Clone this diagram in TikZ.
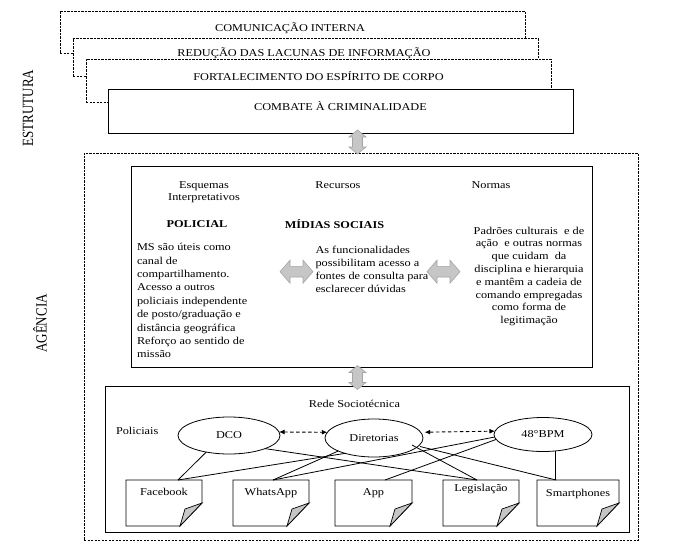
\documentclass[tikz,border=0pt]{standalone}
\usepackage{fontspec}
\setmainfont{Liberation Serif}
\usepackage{graphicx}
\usetikzlibrary{calc,arrows.meta,shapes.geometric}
\definecolor{gfill}{RGB}{198,198,198}
\definecolor{gdraw}{RGB}{165,165,165}
\newcommand{\hsx}[1]{\scalebox{1.17}[1]{#1}}
\newcommand{\vsx}[1]{\scalebox{1}[1.2]{#1}}
\newcommand{\mtab}[3]{\hsx{\fontsize{10.5}{#2}\selectfont\begin{tabular}[t]{@{}#1@{}}#3\end{tabular}}}
\newcommand{\docshape}[1]{%
  \draw[line width=0.8pt,fill=white] (#1.north west) -- (#1.north east) -- ($(#1.south east)+(0,-23)$) -- ($(#1.south east)+(-22,0)$) -- (#1.south west) -- cycle;
  \draw[line width=0.7pt,fill=gfill] ($(#1.south east)+(-22,0)$) .. controls ($(#1.south east)+(-19.5,-9)$) .. ($(#1.south east)+(-17,-17)$) .. controls ($(#1.south east)+(-9,-19.5)$) .. ($(#1.south east)+(0,-23)$) -- cycle;}
\begin{document}
\begin{tikzpicture}[x=1pt,y=-1pt,
  every node/.style={inner sep=0pt,outer sep=0pt},
  ft/.style={font=\fontsize{10.5}{12.5}\selectfont},
  dbox/.style={draw,fill=white,line width=0.8pt,dash pattern=on 2.2pt off 1.3pt},
  sbox/.style={draw,fill=white,line width=0.9pt},
  gshape/.style={fill=gfill,draw=gdraw,line width=0.6pt},
  ell/.style={ellipse,draw,fill=white,line width=0.8pt,ft},
  doc/.style={ft,minimum width=#1,minimum height=46pt},
  link/.style={line width=0.8pt},
  darr/.style={line width=0.9pt,dash pattern=on 3.5pt off 2.5pt,{Latex[length=5.5pt,width=5pt]}-{Latex[length=5.5pt,width=5pt]}},
  vdarrow/.pic={\path[gshape] (0,-12) -- (8.5,-5) -- (5,-5) -- (5,5) -- (8.5,5) -- (0,12) -- (-8.5,5) -- (-5,5) -- (-5,-5) -- (-8.5,-5) -- cycle;},
  hdarrow/.pic={\path[gshape] (-16.5,0) -- (-6.5,-11.5) -- (-6.5,-5.3) -- (6.5,-5.3) -- (6.5,-11.5) -- (16.5,0) -- (6.5,11.5) -- (6.5,5.3) -- (-6.5,5.3) -- (-6.5,11.5) -- cycle;}
]
\fill[white] (0,0) rectangle (680,546);
\useasboundingbox (0,0) rectangle (680,546);

% ---- Estrutura: stacked boxes
\node[dbox,minimum width=465pt,minimum height=42pt] (b1) at (292.5,32) {};
\node[ft,anchor=base] (t1) at (290,31) {\hsx{COMUNICAÇÃO INTERNA}};
\node[dbox,minimum width=465pt,minimum height=38pt] (b2) at (305.5,57) {};
\node[ft,anchor=base] (t2) at (304,56) {\hsx{REDUÇÃO DAS LACUNAS DE INFORMAÇÃO}};
\node[dbox,minimum width=465pt,minimum height=43pt] (b3) at (318.5,80.5) {};
\node[ft,anchor=base] (t3) at (318.5,80.5) {\hsx{FORTALECIMENTO DO ESPÍRITO DE CORPO}};
\node[sbox,minimum width=465pt,minimum height=44pt] (b4) at (340.5,111) {};
\node[ft,anchor=base] (t4) at (340.5,110.5) {\hsx{COMBATE À CRIMINALIDADE}};

\node[rotate=90,font=\fontsize{13}{15}\selectfont] (estr) at (28,108) {\vsx{ESTRUTURA}};
\node[rotate=90,font=\fontsize{13}{15}\selectfont] (agen) at (40,323.5) {\vsx{AGÊNCIA}};

% ---- Agencia
\node[dbox,minimum width=554pt,minimum height=387pt] (ag) at (361,346.5) {};
\node[sbox,minimum width=461pt,minimum height=201pt] (inr) at (361.5,266.5) {};
\node[sbox,minimum width=524pt,minimum height=146pt] (net) at (367,459) {};

\pic at (357.5,142) {vdarrow};
\pic at (357.5,377.5) {vdarrow};

\node[ft,anchor=base] (hesq) at (204,188) {\mtab{c}{12.5pt}{Esquemas\\Interpretativos}};
\node[ft,anchor=base] (hrec) at (338,188) {\hsx{Recursos}};
\node[ft,anchor=base] (hnor) at (491,188.5) {\hsx{Normas}};
\node[ft,anchor=base] (pol) at (197,227.5) {\hsx{\textbf{POLICIAL}}};
\node[ft,anchor=base] (mid) at (334.5,228.5) {\hsx{\textbf{MÍDIAS SOCIAIS}}};

\node[ft,anchor=base west] (ltxt) at (137,250.7) {\mtab{l}{13.4pt}{MS são úteis como\\canal de\\compartilhamento.\\Acesso a outros\\policiais independente\\de posto/graduação e\\distância geográfica\\Reforço ao sentido de\\missão}};
\node[ft,anchor=base west] (mtxt) at (315.5,253.6) {\mtab{l}{12.8pt}{As funcionalidades\\possibilitam acesso a\\fontes de consulta para\\esclarecer dúvidas}};
\node[ft,anchor=base] (rtxt) at (529,234.1) {\mtab{c}{12.8pt}{Padrões culturais \ e de\\ação \ e outras normas\\que cuidam \ da\\disciplina e hierarquia\\e mantêm a cadeia de\\comando empregadas\\como forma de\\legitimação}};

\pic at (296.5,271.7) {hdarrow};
\pic at (443.5,271.7) {hdarrow};

% ---- Rede sociotecnica
\node[ft,anchor=base] (rede) at (354.5,407.5) {\hsx{Rede Sociotécnica}};
\node[ft,anchor=base west] (polc) at (116,434.5) {\hsx{Policiais}};

\node[ell,minimum width=102pt,minimum height=37pt] (DCO) at (229,435.5) {\hsx{DCO}};
\node[ell,minimum width=98pt,minimum height=38pt] (Dir) at (374,438) {\hsx{Diretorias}};
\node[ell,minimum width=98pt,minimum height=34pt] (BPM) at (543,434.5) {\hsx{48°BPM}};

\node[doc=76pt,text height=15.2pt,text depth=30.8pt] (fb) at (164,503) {};
\node[doc=76pt,text height=15.2pt,text depth=30.8pt] (wa) at (271,503) {};
\node[doc=77pt,text height=15.2pt,text depth=30.8pt] (app) at (373.5,503) {};
\node[doc=76pt,text height=11.8pt,text depth=34.2pt] (leg) at (481,503) {};
\node[doc=82pt,text height=16.8pt,text depth=29.2pt] (sp) at (578,503) {};
\docshape{fb}
\docshape{wa}
\docshape{app}
\docshape{leg}
\docshape{sp}
\node[ft,text height=15.2pt,text depth=30.8pt] (fbl) at (fb) {\hsx{Facebook}};
\node[ft,text height=15.2pt,text depth=30.8pt] (wal) at (wa) {\hsx{WhatsApp}};
\node[ft,text height=15.2pt,text depth=30.8pt] (appl) at (app) {\hsx{App}};
\node[ft,text height=11.8pt,text depth=34.2pt] (legl) at (leg) {\hsx{Legislação}};
\node[ft,text height=16.8pt,text depth=29.2pt] (spl) at (sp) {\hsx{Smartphones}};

\coordinate (fbT) at ($(fb.north west)+(52,0)$);
\coordinate (waT) at ($(wa.north)+(2,0)$);
\coordinate (appT) at ($(app.north)+(11.5,0)$);
\coordinate (legT) at ($(leg.north)+(-4,0)$);
\coordinate (spT) at ($(sp.north)+(-22,0)$);
\coordinate (dirR1) at ($(Dir.center)+(38,7)$);
\coordinate (dirR2) at ($(Dir.center)+(46,8.5)$);

\draw[link] (DCO.216) -- (fbT);
\draw[link] (Dir.208) -- (fbT);
\draw[link] (Dir.200) -- (waT);
\draw[link] (BPM.183) -- (waT);
\draw[link] (BPM.186) -- (appT);
\draw[link] (DCO.340) -- (legT);
\draw[link] (dirR1) -- (legT);
\draw[link] (dirR2) -- (spT);
\draw[link] (BPM.308) -- (BPM.308 |- spT);

\draw[darr] (DCO.4) -- (Dir.173);
\draw[darr,shorten <=4pt] (Dir.7) -- (BPM.176);
\end{tikzpicture}
\end{document}
